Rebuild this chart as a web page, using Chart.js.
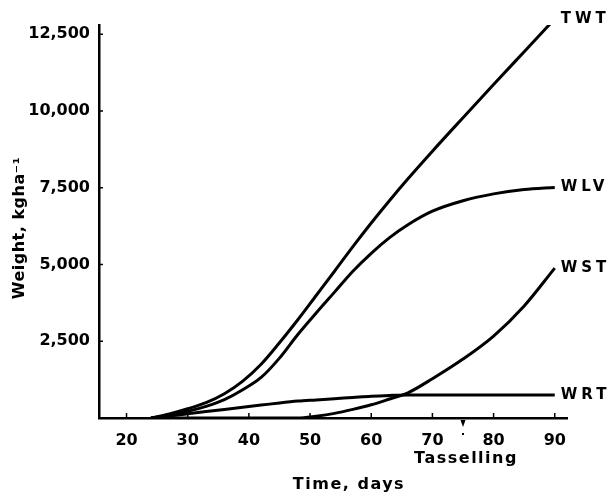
<!DOCTYPE html>
<html>
<head>
<meta charset="utf-8">
<script src="https://cdn.jsdelivr.net/npm/chart.js@4/dist/chart.umd.min.js"></script>
<style>
html,body{margin:0;padding:0;background:#fff;}
#wrap{width:608px;height:496px;position:relative;}
</style>
</head>
<body>
<div id="wrap"><canvas id="c" width="608" height="496"></canvas></div>
<script>
const days = [24, 27, 30, 33, 36, 39, 42, 45, 48, 51, 54, 57, 60, 63, 66, 70, 75, 80, 85, 90];
const twt  = [0, 130, 300, 500, 790, 1200, 1750, 2450, 3200, 3990, 4780, 5580, 6350, 7085, 7790, 8690, 9780, 10860, 11930, 13000];
const wlv  = [0, 90, 220, 380, 600, 920, 1320, 1950, 2720, 3420, 4100, 4780, 5365, 5875, 6295, 6735, 7075, 7300, 7440, 7510];
const wst  = [0, 0, 0, 0, 0, 0, 0, 0, 0, 60, 150, 280, 430, 620, 820, 1280, 1920, 2670, 3650, 4880];
const wrt  = [0, 60, 140, 210, 280, 350, 420, 490, 550, 590, 630, 670, 710, 735, 750, 750, 750, 750, 750, 750];
const seriesNames = ['TWT', 'WLV', 'WST', 'WRT'];
const seriesValues = [twt, wlv, wst, wrt];
const xTicks = [20, 30, 40, 50, 60, 70, 80, 90];
const yTicks = [2500, 5000, 7500, 10000, 12500];
const tasselDay = 75;

const FONT = 'DejaVu Sans';

const extras = {
  id: 'extras',
  afterDatasetsDraw(chart) {
    const ctx = chart.ctx;
    const xs = chart.scales.x, ys = chart.scales.y;
    ctx.save();
    ctx.fillStyle = '#000';
    ctx.font = 'bold 15px "' + FONT + '"';
    ctx.textAlign = 'left';
    ctx.textBaseline = 'middle';
    try { ctx.letterSpacing = '4px'; } catch (e) {}
    chart.data.datasets.forEach(ds => {
      const last = ds.data[ds.data.length - 1];
      ctx.fillText(ds.label, xs.getPixelForValue(last.x) + 6, ys.getPixelForValue(last.y));
    });
    // inner tick marks
    ctx.strokeStyle = '#000';
    ctx.lineWidth = 1.5;
    const x0 = xs.left, y0 = ys.bottom;
    ctx.beginPath();
    yTicks.forEach(v => { const y = ys.getPixelForValue(v); ctx.moveTo(x0, y); ctx.lineTo(x0 + 4, y); });
    xTicks.forEach(v => { const x = xs.getPixelForValue(v); ctx.moveTo(x, y0); ctx.lineTo(x, y0 - 5); });
    ctx.stroke();
    // tasselling marker
    const tx = xs.getPixelForValue(tasselDay);
    ctx.beginPath();
    ctx.moveTo(tx - 2.5, y0 + 2);
    ctx.lineTo(tx + 2.5, y0 + 2);
    ctx.lineTo(tx, y0 + 9);
    ctx.closePath();
    ctx.fill();
    ctx.fillRect(tx - 1, y0 + 15, 2, 2);
    ctx.font = 'bold 16px "' + FONT + '"';
    ctx.textAlign = 'center';
    try { ctx.letterSpacing = '1.5px'; } catch (e) {}
    ctx.fillText('Tasselling', tx + 3, 459);
    ctx.fillText('Time, days', (xs.left + xs.right) / 2 + 16, 485);
    // y title
    try { ctx.letterSpacing = '0.5px'; } catch (e) {}
    ctx.translate(20, 228);
    ctx.rotate(-Math.PI / 2);
    ctx.fillText('Weight, kgha\u207B\u00B9', 0, 0);
    ctx.restore();
  }
};

new Chart(document.getElementById('c'), {
  type: 'line',
  data: {
    datasets: seriesNames.map((n, i) => ({
      label: n,
      data: days.map((d, j) => ({ x: d, y: seriesValues[i][j] })),
      borderColor: '#000',
      borderWidth: 3,
      pointRadius: 0,
      fill: false,
      cubicInterpolationMode: 'monotone'
    }))
  },
  options: {
    responsive: false,
    animation: false,
    devicePixelRatio: 1,
    layout: { padding: { left: 0, top: 25, right: 41, bottom: 0 } },
    plugins: { legend: { display: false }, tooltip: { enabled: false } },
    scales: {
      x: {
        type: 'linear',
        min: 15.5, max: 92,
        afterBuildTicks: s => { s.ticks = xTicks.map(v => ({ value: v })); },
        afterFit: s => { s.height = 78; },
        grid: { display: false, drawTicks: false },
        border: { display: true, color: '#000', width: 2.5 },
        ticks: { color: '#000', font: { family: FONT, weight: 'bold', size: 16 }, padding: 13, maxRotation: 0, autoSkip: false },
        title: { display: false }
      },
      y: {
        type: 'linear',
        min: 0, max: 12800,
        afterBuildTicks: s => { s.ticks = yTicks.map(v => ({ value: v })); },
        afterFit: s => { s.width = 99; },
        grid: { display: false, drawTicks: false },
        border: { display: true, color: '#000', width: 2.5 },
        ticks: { color: '#000', font: { family: FONT, weight: 'bold', size: 16 }, padding: 9,
                 callback: v => v.toLocaleString('en-US') },
        title: { display: false }
      }
    }
  },
  plugins: [extras]
});
</script>
</body>
</html>
